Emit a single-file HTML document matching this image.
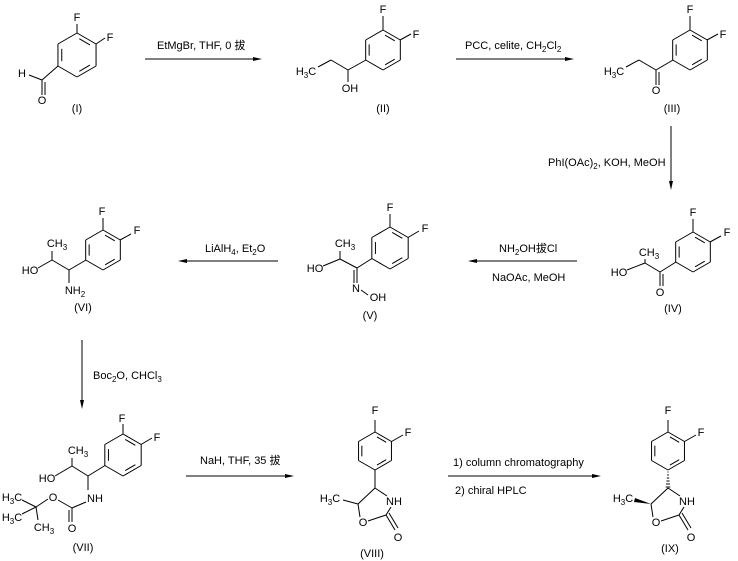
<!DOCTYPE html>
<html><head><meta charset="utf-8">
<style>
html,body{margin:0;padding:0;background:#fff;}
svg{display:block;}
text{font-family:"Liberation Sans","Noto Sans CJK SC",sans-serif;font-size:11px;fill:#000;}
.s{font-size:8px;}
</style></head>
<body>
<svg id="c" width="738" height="561" viewBox="0 0 738 561" xmlns="http://www.w3.org/2000/svg">
<g text-anchor="middle">
<!-- I -->
<text x="77" y="21">F</text><text x="110" y="41">F</text>
<text x="22" y="77">H</text><text x="42" y="104">O</text>
<text x="77" y="112">(I)</text>
<!-- II -->
<text x="383" y="13">F</text><text x="416" y="38">F</text>
<text x="306" y="75">H<tspan class="s" dy="3">3</tspan><tspan dy="-3">C</tspan></text>
<text x="350" y="92">OH</text>
<text x="383" y="112">(II)</text>
<!-- III -->
<text x="690" y="13">F</text><text x="723" y="38">F</text>
<text x="614" y="75">H<tspan class="s" dy="3">3</tspan><tspan dy="-3">C</tspan></text>
<text x="656" y="94">O</text>
<text x="672" y="112">(III)</text>
<!-- IV -->
<text x="693" y="216">F</text><text x="727" y="236">F</text>
<text x="649" y="256">CH<tspan class="s" dy="3">3</tspan></text>
<text x="619" y="276">HO</text>
<text x="660" y="296">O</text>
<text x="673" y="312">(IV)</text>
<!-- V -->
<text x="390" y="211">F</text><text x="425" y="232">F</text>
<text x="345" y="247">CH<tspan class="s" dy="3">3</tspan></text>
<text x="315" y="272">HO</text>
<text x="356" y="292">N</text>
<text x="378" y="301">OH</text>
<text x="370" y="319">(V)</text>
<!-- VI -->
<text x="102" y="215">F</text><text x="137" y="234">F</text>
<text x="57" y="247">CH<tspan class="s" dy="3">3</tspan></text>
<text x="30" y="274">HO</text>
<text x="75" y="294">NH<tspan class="s" dy="3">2</tspan></text>
<text x="83" y="311">(VI)</text>
<!-- VII -->
<text x="122" y="422">F</text><text x="157" y="441">F</text>
<text x="78" y="454">CH<tspan class="s" dy="3">3</tspan></text>
<text x="47" y="482">HO</text>
<text x="95" y="502">NH</text>
<text x="53" y="501">O</text>
<text x="72" y="532">O</text>
<text x="12" y="501">H<tspan class="s" dy="3">3</tspan><tspan dy="-3">C</tspan></text>
<text x="12" y="521">H<tspan class="s" dy="3">3</tspan><tspan dy="-3">C</tspan></text>
<text x="44" y="531">CH<tspan class="s" dy="3">3</tspan></text>
<text x="83" y="551">(VII)</text>
<!-- VIII -->
<text x="375" y="414">F</text><text x="408" y="436">F</text>
<text x="330" y="502">H<tspan class="s" dy="3">3</tspan><tspan dy="-3">C</tspan></text>
<text x="394" y="505">NH</text>
<text x="363" y="526">O</text>
<text x="398" y="541">O</text>
<text x="372" y="557">(VIII)</text>
<!-- IX -->
<text x="668" y="414">F</text><text x="701" y="436">F</text>
<text x="623" y="502">H<tspan class="s" dy="3">3</tspan><tspan dy="-3">C</tspan></text>
<text x="687" y="505">NH</text>
<text x="656" y="526">O</text>
<text x="691" y="541">O</text>
<text x="670" y="552">(IX)</text>
</g>
<!-- reagents -->
<text x="157" y="49">EtMgBr, THF, 0 拔</text>
<text x="465" y="49">PCC, celite, CH<tspan class="s" dy="3">2</tspan><tspan dy="-3">Cl</tspan><tspan class="s" dy="3">2</tspan></text>
<text x="548" y="166">PhI(OAc)<tspan class="s" dy="3">2</tspan><tspan dy="-3">, KOH, MeOH</tspan></text>
<text x="499" y="252">NH<tspan class="s" dy="3">2</tspan><tspan dy="-3">OH拔Cl</tspan></text>
<text x="492" y="281">NaOAc, MeOH</text>
<text x="205" y="252">LiAlH<tspan class="s" dy="3">4</tspan><tspan dy="-3">, Et</tspan><tspan class="s" dy="3">2</tspan><tspan dy="-3">O</tspan></text>
<text x="93" y="379">Boc<tspan class="s" dy="3">2</tspan><tspan dy="-3">O, CHCl</tspan><tspan class="s" dy="3">3</tspan></text>
<text x="200" y="464">NaH, THF, 35 拔</text>
<text x="453" y="466">1) column chromatography</text>
<text x="455" y="494">2) chiral HPLC</text>
<g id="g" stroke="#000" stroke-width="1" fill="none"></g>
</svg>
<script>
var g=document.getElementById('g'),NS='http://www.w3.org/2000/svg';
function L(a,b,c,d){var e=document.createElementNS(NS,'line');e.setAttribute('x1',a);e.setAttribute('y1',b);e.setAttribute('x2',c);e.setAttribute('y2',d);g.appendChild(e);}
function P(pts,fill){var e=document.createElementNS(NS,'polygon');e.setAttribute('points',pts);e.setAttribute('fill',fill||'#000');e.setAttribute('stroke','none');g.appendChild(e);}
function ring(cx,cy,r){var v=[];[-90,-30,30,90,150,210].forEach(function(a){a=a*Math.PI/180;v.push([cx+r*Math.cos(a),cy+r*Math.sin(a)]);});
for(var i=0;i<6;i++){var p=v[i],q=v[(i+1)%6];L(p[0],p[1],q[0],q[1]);}
[[0,1],[2,3],[4,5]].forEach(function(k){var p=v[k[0]],q=v[k[1]];var f=0.2,s=0.15;
var px=p[0]+(cx-p[0])*f,py=p[1]+(cy-p[1])*f,qx=q[0]+(cx-q[0])*f,qy=q[1]+(cy-q[1])*f;
var dx=qx-px,dy=qy-py;L(px+dx*s,py+dy*s,qx-dx*s,qy-dy*s);});return v;}
function arrR(x1,x2,y){L(x1,y,x2-6,y);P((x2-9)+','+(y-2)+' '+x2+','+y+' '+(x2-9)+','+(y+2));}
function arrL(x1,x2,y){L(x1+6,y,x2,y);P((x1+9)+','+(y-2)+' '+x1+','+y+' '+(x1+9)+','+(y+2));}
function arrD(x,y1,y2){L(x,y1,x,y2-6);P((x-2)+','+(y2-9)+' '+x+','+y2+' '+(x+2)+','+(y2-9));}
// arrows
arrR(145,262,59);arrR(456,574,59);arrD(671,126,190);
arrL(468,577,261);arrL(178,278,261);arrD(82,340,409);
arrR(186,294,476);arrR(448,601,476);
// I
ring(77,55,22);L(77,33,77,24);L(96,44,105,38);L(58,66,42,80);L(29,75,42,80);L(42,80,42,95);L(45,82,45,95);
// II
ring(383,50,20);L(383,30,383,16);L(400,40,411,34);L(366,60,348,70);L(348,70,331,60);L(331,60,318,67);L(348,70,348,82);
// III
ring(690,50,20);L(690,30,690,16);L(707,40,718,34);L(673,60,656,70);L(656,70,639,60);L(639,60,626,67);L(656,70,656,85);L(659,72,659,85);
// IV
ring(693,252,20);L(693,232,693,219);L(710,242,721,236);L(676,262,660,272);L(660,272,660,286);L(663,274,663,286);L(660,272,645,263);L(645,263,645,259);L(627,270,645,263);
// V
ring(390,248,21);L(390,227,390,214);L(408,237.5,419,231);L(372,258.5,357,268);L(357,268,357,283);L(354,270,354,283);L(361,290,368,295);L(357,268,340,259);L(340,259,340,251);L(323,266,340,259);
// VI
ring(103,250,20);L(103,230,103,218);L(120,240,131,234);L(86,260,69,270);L(69,270,69,283);L(69,270,52,260);L(52,260,52,251);L(38,268,52,260);
// VII
ring(123,455,21);L(123,434,123,424);L(141,444.5,152,438);L(105,465.5,88,476);L(88,476,88,490);L(88,476,72,466);L(72,466,72,458);L(55,476,72,466);
L(86,502,72,508);L(72,508,72,522);L(69,510,69,522);L(72,508,58,500);L(48,499,36,507);L(36,507,22,500);L(36,507,22,514);L(36,507,38,520);
// VIII / IX
function ox(d,st){ring(375+d,451,19);L(375+d,432,375+d,420);L(391.5+d,441.5,403+d,435);
if(st){for(var i=0;i<6;i++){var y=472+i*3,w=0.5+i*0.35;L(375+d-w,y,375+d+w,y);}}else L(375+d,470,375+d,488);
L(375+d,488,387+d,496);L(391+d,507,386+d,515);L(386+d,515,368+d,521);L(360+d,517,358+d,504);L(358+d,504,375+d,488);
L(386+d,515,395+d,530);L(389+d,513,398+d,528);
if(st)P((358+d)+','+504+' '+(342+d)+','+(498)+' '+(341+d)+','+(502));else L(358+d,504,343+d,500);}
ox(0,false);ox(293,true);
</script>
</body></html>
